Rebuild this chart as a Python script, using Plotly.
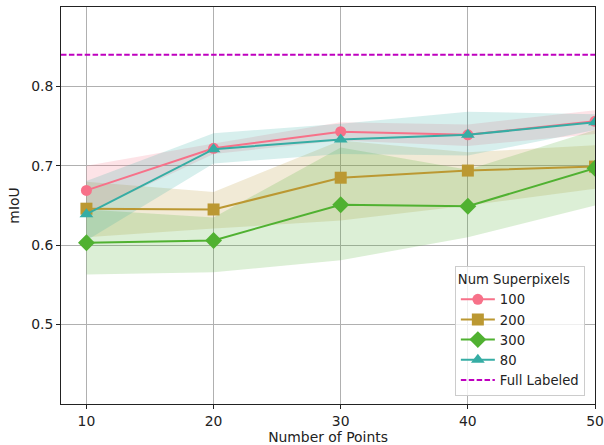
import plotly.graph_objects as go

points = [10, 20, 30, 40, 50]
series_names = ["100", "200", "300", "80"]
miou_100 = [0.669, 0.722, 0.743, 0.739, 0.756]
miou_200 = [0.646, 0.645, 0.685, 0.694, 0.699]
miou_300 = [0.603, 0.606, 0.651, 0.649, 0.697]
miou_80 = [0.639, 0.721, 0.733, 0.739, 0.755]
upper_100 = [0.700, 0.728, 0.755, 0.752, 0.770]
lower_100 = [0.640, 0.715, 0.732, 0.725, 0.740]
upper_200 = [0.680, 0.667, 0.732, 0.717, 0.726]
lower_200 = [0.610, 0.621, 0.631, 0.650, 0.671]
upper_300 = [0.645, 0.635, 0.723, 0.695, 0.745]
lower_300 = [0.563, 0.566, 0.581, 0.610, 0.650]
upper_80 = [0.681, 0.741, 0.753, 0.768, 0.765]
lower_80 = [0.606, 0.703, 0.715, 0.713, 0.745]
full_labeled = 0.84
x_range = [8, 50]
y_range = [0.4, 0.9]

means = [miou_100, miou_200, miou_300, miou_80]
uppers = [upper_100, upper_200, upper_300, upper_80]
lowers = [lower_100, lower_200, lower_300, lower_80]
colors = ["#f77189", "#bb9832", "#50b131", "#36ada4"]
fills = ["rgba(247,113,137,0.2)", "rgba(187,152,50,0.2)", "rgba(80,177,49,0.2)", "rgba(54,173,164,0.2)"]
symbols = ["circle", "square", "diamond", "triangle-up"]
sizes = [11, 12, 13, 12]
FS = 13.9
LFS = 13.2

fig = go.Figure()
for i in range(4):
    fig.add_trace(go.Scatter(
        x=points + points[::-1], y=uppers[i] + lowers[i][::-1],
        fill="toself", fillcolor=fills[i], line=dict(width=0),
        mode="lines", showlegend=False, hoverinfo="skip"))
for i in range(4):
    fig.add_trace(go.Scatter(
        x=points, y=means[i], mode="lines+markers", name=series_names[i],
        line=dict(color=colors[i], width=2),
        marker=dict(symbol=symbols[i], size=sizes[i], color=colors[i])))
fig.add_trace(go.Scatter(
    x=x_range, y=[full_labeled, full_labeled], mode="lines", name="Full Labeled",
    line=dict(color="#bf00bf", width=2, dash="5.5px,2.4px")))

axis_common = dict(showline=True, linecolor="#222", linewidth=1, mirror=True,
                   showgrid=True, gridcolor="#b0b0b0", gridwidth=1, automargin=False,
                   ticks="outside", ticklen=4, tickcolor="#222", zeroline=False,
                   tickfont=dict(family="DejaVu Sans", size=FS, color="#222"))
fig.update_xaxes(range=x_range, tickvals=points, title=dict(text="Number of Points",
                 font=dict(family="DejaVu Sans", size=FS, color="#222"), standoff=2), **axis_common)
fig.update_yaxes(range=y_range, tickvals=[0.5, 0.6, 0.7, 0.8], ticktext=["0.5", "0.6", "0.7", "0.8"],
                 title=dict(text="mIoU", font=dict(family="DejaVu Sans", size=FS, color="#222"), standoff=8),
                 **axis_common)
fig.update_layout(
    width=604, height=445, plot_bgcolor="white", paper_bgcolor="white",
    margin=dict(l=61, r=9, t=7, b=41),
    font=dict(family="DejaVu Sans", size=FS, color="#222"),
    legend=dict(title=dict(text="Num Superpixels", side="top", font=dict(size=LFS)),
                x=0.981, y=0.02, xanchor="right", yanchor="bottom",
                bgcolor="rgba(255,255,255,0.8)", bordercolor="#cccccc", borderwidth=1,
                font=dict(size=LFS), itemwidth=34, tracegroupgap=0),
    showlegend=True,
)
fig.write_html("out.html", config={"displayModeBar": False},
               post_script="document.body.style.margin='0px';document.body.style.overflow='hidden';")
